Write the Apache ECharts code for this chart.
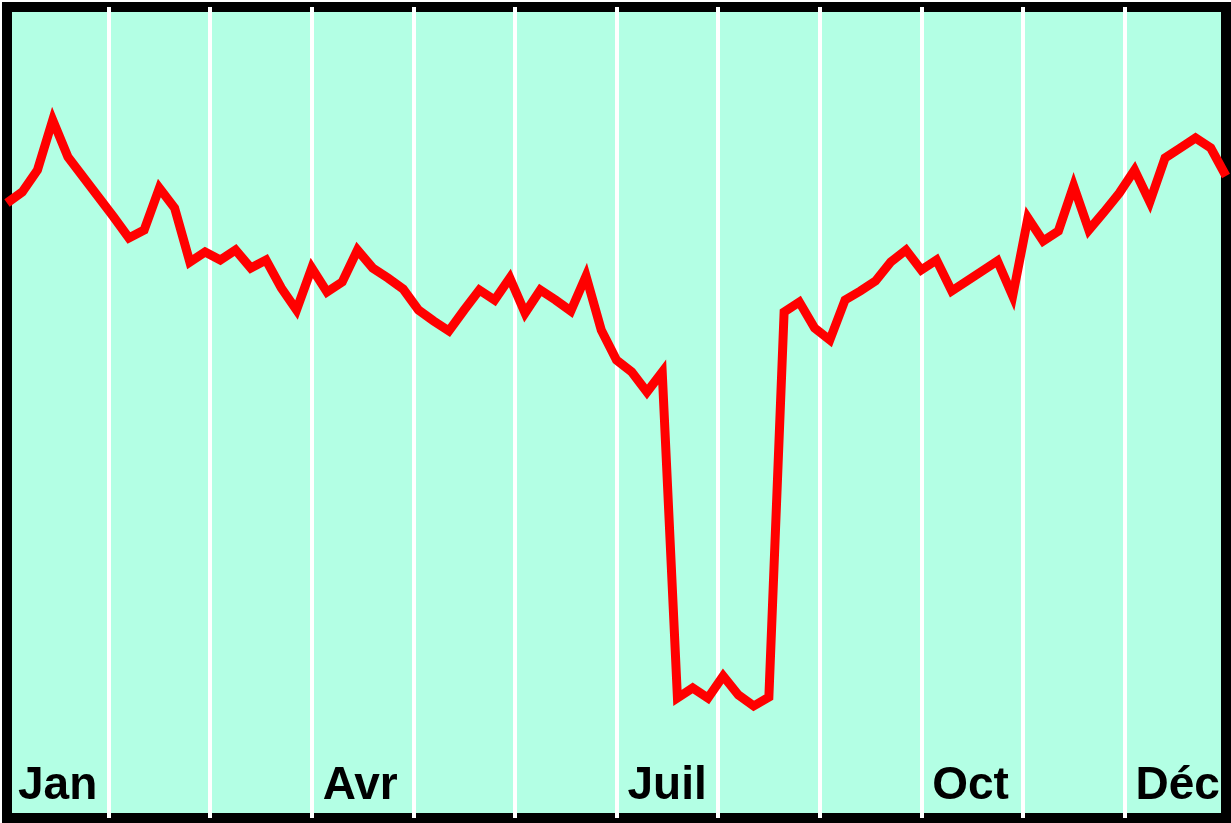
<!DOCTYPE html>
<html>
<head>
<meta charset="utf-8">
<script src="https://cdn.jsdelivr.net/npm/echarts@6/dist/echarts.min.js"></script>
<style>
html,body{margin:0;padding:0;background:#ffffff;}
#chart{width:1231px;height:823px;}
</style>
</head>
<body>
<div id="chart"></div>
<script>
// Month tick labels (12 month boundaries, 0..12)
const monthLabels = ['Jan','','','Avr','','','Juil','','','Oct','','Déc',''];
// Sample index along the year (81 evenly spaced samples)
const sampleIndex = Array.from({length: 81}, (_, i) => i);
// Series values (arbitrary units)
const values = [
  615, 626, 648, 698, 661, 641, 621, 601, 580, 588,
  630, 610, 556, 566, 558, 568, 550, 558, 530, 508,
  550, 526, 536, 568, 550, 540, 529, 508, 497, 487,
  508, 528, 518, 540, 505, 528, 518, 507, 542, 488,
  458, 446, 426, 446, 120, 130, 120, 142, 123, 112,
  121, 506, 516, 490, 478, 518, 527, 537, 556, 568,
  548, 558, 527, 537, 547, 557, 522, 600, 577, 587,
  632, 588, 606, 625, 648, 616, 660, 670, 680, 670,
  642
];

const chart = echarts.init(document.getElementById('chart'), null, {renderer: 'canvas'});
chart.setOption({
  animation: false,
  backgroundColor: '#ffffff',
  grid: {
    left: 7, top: 7, right: 5, bottom: 5,
    show: true,
    backgroundColor: '#b3ffe4',
    borderColor: '#000000',
    borderWidth: 10
  },
  xAxis: [
    {
      type: 'category',
      data: sampleIndex,
      boundaryGap: false,
      show: false
    },
    {
      type: 'value',
      min: 0, max: 12, interval: 1,
      position: 'bottom',
      axisLine: {show: false},
      axisTick: {show: false},
      splitLine: {show: true, showMinLine: false, showMaxLine: false, lineStyle: {color: '#ffffff', width: 4}},
      axisLabel: {
        inside: true,
        margin: 32,
        align: 'left',
        verticalAlign: 'middle',
        padding: [0, 0, 0, 11],
        color: '#000000',
        fontFamily: 'Liberation Sans',
        fontWeight: 'bold',
        fontSize: 46,
        showMinLabel: true,
        showMaxLabel: true,
        formatter: v => monthLabels[Math.round(v)] || ''
      }
    }
  ],
  yAxis: {
    type: 'value',
    min: 0, max: 811,
    show: false,
    splitLine: {show: false}
  },
  series: [{
    type: 'line',
    xAxisIndex: 0,
    data: values,
    showSymbol: false,
    symbol: 'none',
    lineStyle: {color: '#ff0000', width: 9, join: 'miter', cap: 'butt'},
    z: 5
  }]
});
</script>
</body>
</html>
